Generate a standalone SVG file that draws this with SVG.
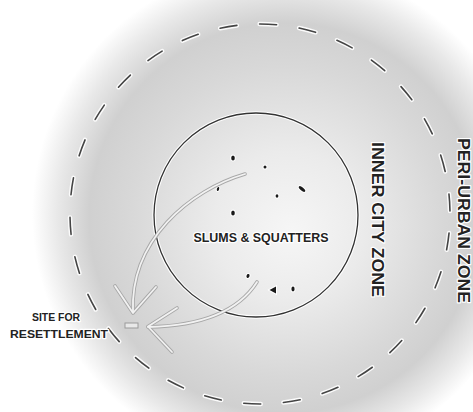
<svg xmlns="http://www.w3.org/2000/svg" width="473" height="412" viewBox="0 0 473 412">
<defs>
<radialGradient id="halo" gradientUnits="userSpaceOnUse" cx="282" cy="214" r="250" fx="292" fy="232">
<stop offset="0" stop-color="#f6f6f6"/>
<stop offset="0.3" stop-color="#ebebeb"/>
<stop offset="0.62" stop-color="#d8d8d8"/>
<stop offset="0.78" stop-color="#d0d0d0"/>
<stop offset="0.9" stop-color="#e8e8e8"/>
<stop offset="1" stop-color="#ffffff"/>
</radialGradient>
</defs>
<style>
.dash{fill:none;stroke:#444444;stroke-width:1.6;stroke-linecap:round;stroke-dasharray:17 22.8;stroke-dashoffset:20.8}
.dashw{fill:none;stroke:#fbfbfb;stroke-width:4.5;stroke-linecap:round;stroke-dasharray:17 22.8;stroke-dashoffset:20.8}
.arrO{fill:none;stroke:#a8a8a8;stroke-width:3.6;stroke-linecap:round;stroke-linejoin:round}
.arrI{fill:none;stroke:#f2f2f2;stroke-width:1.8;stroke-linecap:round;stroke-linejoin:round}
.lbl{font-family:"Liberation Sans",Arial,sans-serif;font-weight:bold;fill:#222222;stroke:#ffffff;stroke-width:2.4;stroke-linejoin:round;paint-order:stroke}
.dot{fill:#1a1a1a;stroke:#ffffff;stroke-width:2;paint-order:stroke}
</style>
<rect x="0" y="0" width="473" height="412" fill="#ffffff"/>
<circle cx="282" cy="214" r="250" fill="url(#halo)"/>

<g id="peri-urban-zone">
<circle class="dashw" cx="260" cy="214" r="190"/>
<circle class="dash" cx="260" cy="214" r="190"/>
<text class="lbl" font-size="17" text-anchor="middle" transform="translate(458,220.5) rotate(90)" textLength="165" lengthAdjust="spacingAndGlyphs">PERI-URBAN ZONE</text>
</g>

<g id="inner-city-zone">
<circle cx="256" cy="215" r="102" fill="none" stroke="#ffffff" stroke-width="3.5"/>
<circle cx="256" cy="215" r="102" fill="none" stroke="#333333" stroke-width="1.3"/>
<text class="lbl" font-size="17" text-anchor="middle" transform="translate(371.5,219.5) rotate(90)" textLength="155" lengthAdjust="spacingAndGlyphs">INNER CITY ZONE</text>
</g>

<g id="slums-squatters">
<ellipse class="dot" cx="233" cy="158" rx="1.8" ry="2.6"/>
<ellipse class="dot" cx="265" cy="167" rx="1.5" ry="1.6"/>
<ellipse class="dot" cx="218" cy="189" rx="1.1" ry="2" transform="rotate(20 218 189)"/>
<ellipse class="dot" cx="277" cy="196" rx="1.4" ry="1.7"/>
<ellipse class="dot" cx="302" cy="189" rx="4" ry="1.6" transform="rotate(40 302 189)"/>
<ellipse class="dot" cx="233" cy="213" rx="1.8" ry="2.6"/>
<ellipse class="dot" cx="248" cy="276" rx="1.5" ry="2" transform="rotate(20 248 276)"/>
<polygon class="dot" points="269.5,290 276,286.5 276,293.5"/>
<ellipse class="dot" cx="293" cy="289" rx="1.6" ry="2.4"/>
<text class="lbl" font-size="12" x="261" y="241.5" text-anchor="middle" textLength="135" lengthAdjust="spacingAndGlyphs">SLUMS &amp; SQUATTERS</text>
</g>

<g id="site-for-resettlement">
<rect x="125" y="323" width="13" height="5" fill="#e8e8e8" stroke="#9a9a9a" stroke-width="1"/>
<text class="lbl" font-size="11" text-anchor="middle"><tspan x="56" y="321" textLength="48" lengthAdjust="spacingAndGlyphs">SITE FOR</tspan><tspan x="59" y="337.5" textLength="98" lengthAdjust="spacingAndGlyphs">RESETTLEMENT</tspan></text>
</g>

<g id="connectors">
<path class="arrO" d="M245,174 C190,190 130,240 133,312"/>
<path class="arrO" d="M115,286 L133,313 L156,287"/>
<path class="arrO" d="M257,282 C238,312 200,326 148,327"/>
<path class="arrO" d="M177,308 L148,326.5 L172,352"/>
<path class="arrI" d="M245,174 C190,190 130,240 133,312"/>
<path class="arrI" d="M115,286 L133,313 L156,287"/>
<path class="arrI" d="M257,282 C238,312 200,326 148,327"/>
<path class="arrI" d="M177,308 L148,326.5 L172,352"/>
</g>
</svg>
